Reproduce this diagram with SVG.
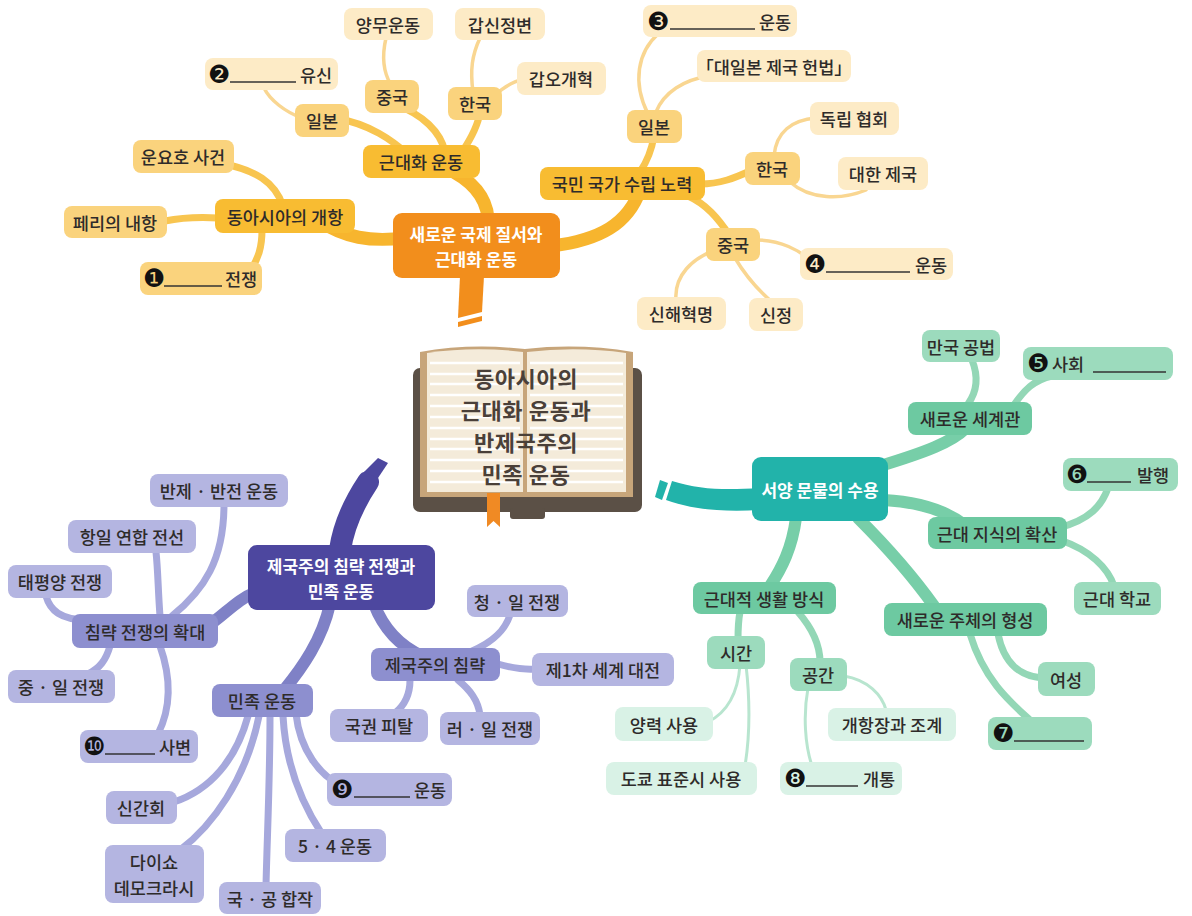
<svg xmlns="http://www.w3.org/2000/svg" width="1192" height="916" viewBox="0 0 1192 916">
<defs>
<style>
text{font-family:"Noto Sans CJK KR","Noto Sans CJK SC","DejaVu Sans",sans-serif;font-size:17.5px;fill:#2e2b2a;text-anchor:middle;dominant-baseline:central;font-weight:500}
.tw{fill:#ffffff;font-weight:700;font-size:17px}
.tb{font-size:22px;font-weight:700;fill:#4a4039;letter-spacing:0.6px}
.num{font-family:"DejaVu Sans",sans-serif;font-size:25px;fill:#111;text-anchor:start}
.bl{stroke:#333;stroke-width:1.3}
.o1{fill:#F28E1C}.o2{fill:#F8BC32}.o3{fill:#FAD37D}.o4{fill:#FDEBC6}
.g1{fill:#22B3AA}.g2{fill:#6DC9A1}.g3{fill:#9CDBBD}.g4{fill:#D9F2E6}
.p1{fill:#4D479F}.p2{fill:#8D8FCF}.p3{fill:#B4B5E1}
.c{fill:none;stroke-linecap:round}
.co1{stroke:#F7B52E;stroke-width:13}.co2{stroke:#F8C550;stroke-width:7}.co3{stroke:#F9D691;stroke-width:3.5}
.cg1{stroke:#77CEA8;stroke-width:12}.cg2{stroke:#93D7B6;stroke-width:7}.cg3{stroke:#B8E5CF;stroke-width:3}
.cp1{stroke:#7F81C6;stroke-width:12}.cp2{stroke:#A6A8DC;stroke-width:7}
</style>
</defs>
<rect width="1192" height="916" fill="#ffffff"/>

<g id="connectors">
<!-- orange -->
<path class="c co1" d="M405,238 C370,242 345,238 318,220"/>
<path class="c co1" d="M488,218 C486,196 472,180 446,168"/>
<path class="c co1" d="M552,246 C600,240 628,224 640,190"/>
<path class="c co2" d="M410,156 C392,140 370,124 335,118"/>
<path class="c co2" d="M445,152 C441,132 422,114 396,105"/>
<path class="c co2" d="M462,152 C470,140 478,126 480,112"/>
<path class="c co2" d="M283,206 C275,182 256,170 220,163"/>
<path class="c co2" d="M165,221 C185,217 200,217 218,218"/>
<path class="c co2" d="M262,230 C262,248 258,258 252,268"/>
<path class="c co2" d="M640,172 C648,160 652,148 654,136"/>
<path class="c co2" d="M700,184 C720,184 735,178 752,170"/>
<path class="c co2" d="M688,196 C706,204 718,218 730,236"/>
<path class="c co3" d="M391,85 C382,70 382,55 386,38"/>
<path class="c co3" d="M473,92 C470,70 472,55 480,38"/>
<path class="c co3" d="M494,96 C505,86 515,80 530,78"/>
<path class="c co3" d="M302,118 C285,112 270,100 264,88"/>
<path class="c co3" d="M648,114 C632,82 638,52 658,34"/>
<path class="c co3" d="M656,112 C664,92 684,80 708,76"/>
<path class="c co3" d="M774,156 C776,132 792,120 816,118"/>
<path class="c co3" d="M790,182 C810,200 842,200 866,190"/>
<path class="c co3" d="M756,240 C780,240 800,250 812,262"/>
<path class="c co3" d="M716,250 C692,258 674,276 676,300"/>
<path class="c co3" d="M735,258 C745,275 758,290 772,302"/>
<!-- green -->
<path class="c cg1" d="M880,466 C926,452 952,442 966,428"/>
<path class="c cg1" d="M884,500 C922,502 948,512 966,526"/>
<path class="c cg1" d="M858,518 C888,548 914,578 934,606"/>
<path class="c cg1" d="M796,518 C792,548 782,568 770,586"/>
<path class="c cg2" d="M968,404 C978,390 978,375 972,360"/>
<path class="c cg2" d="M1014,405 C1024,390 1034,380 1052,376"/>
<path class="c cg2" d="M1058,528 C1090,520 1102,505 1108,488"/>
<path class="c cg2" d="M1060,540 C1090,550 1108,568 1114,586"/>
<path class="c cg2" d="M740,612 C738,622 738,632 738,640"/>
<path class="c cg2" d="M798,612 C812,628 820,645 820,662"/>
<path class="c cg2" d="M998,634 C1004,664 1020,676 1042,678"/>
<path class="c cg2" d="M970,634 C984,680 1010,702 1030,720"/>
<path class="c cg3" d="M740,665 C738,692 728,712 708,722"/>
<path class="c cg3" d="M746,665 C750,700 750,735 745,766"/>
<path class="c cg3" d="M844,676 C868,680 882,695 886,710"/>
<path class="c cg3" d="M808,688 C803,715 805,745 812,766"/>
<!-- purple -->
<path class="c cp1" d="M256,592 C236,600 226,614 205,628"/>
<path class="c cp1" d="M330,604 C322,640 302,668 284,690"/>
<path class="c cp1" d="M374,604 C384,630 400,646 422,656"/>
<path class="c cp2" d="M172,616 C204,590 224,560 224,504"/>
<path class="c cp2" d="M160,616 C158,590 158,570 156,552"/>
<path class="c cp2" d="M88,620 C60,620 50,610 46,596"/>
<path class="c cp2" d="M110,646 C106,660 100,668 88,674"/>
<path class="c cp2" d="M160,646 C172,680 170,710 158,734"/>
<path class="c cp2" d="M470,652 C494,642 505,630 510,615"/>
<path class="c cp2" d="M498,664 C512,668 524,670 536,669"/>
<path class="c cp2" d="M410,680 C410,695 405,705 395,713"/>
<path class="c cp2" d="M458,680 C470,690 478,700 480,715"/>
<path class="c cp2" d="M296,714 C300,750 320,776 342,786"/>
<path class="c cp2" d="M283,716 C286,770 306,810 322,834"/>
<path class="c cp2" d="M270,716 C270,780 267,840 266,886"/>
<path class="c cp2" d="M259,716 C246,780 212,826 180,850"/>
<path class="c cp2" d="M248,716 C236,760 210,790 174,802"/>
</g>

<g id="tails">
<path d="M460,276 L484,276 L482,312 L458,318 Z" class="o1"/>
<path d="M458,322 L482,316 L482,321 L458,327 Z" class="o1"/>
<path d="M672,481 C700,490 726,490 760,488 L760,510 C724,512 694,510 666,500 Z" fill="#22B3AA"/>
<path d="M660,480 L668,483 L662,500 L655,497 Z" fill="#22B3AA"/>
<path class="c" d="M340,550 C344,522 356,500 368,482" stroke="#4D479F" stroke-width="22" stroke-linecap="butt"/>
<path d="M364,472 L378,478 L388,463 L378,458 Z" fill="#4D479F"/>
</g>

<g id="book">
<rect x="413" y="368" width="229" height="144" rx="7" fill="#5B5046"/>
<rect x="510" y="508" width="35" height="11" rx="3" fill="#5B5046"/>
<path d="M420,352 Q470,343 525,349 Q580,343 633,352 L633,497 L420,497 Z" fill="#C7A57A"/>
<path d="M427,353 Q475,346 523,352 L523,492 L427,492 Z" fill="#F4EBDA"/>
<path d="M527,352 Q577,346 626,353 L626,492 L527,492 Z" fill="#F4EBDA"/>
<g stroke="#ffffff" stroke-width="2.5">
<path d="M430,363H520M430,374H520M430,384H520M430,395H520M430,406H520M430,417H520M430,428H520M430,439H520M430,449H520M430,460H520M430,471H520M430,482H520"/>
<path d="M530,363H623M530,374H623M530,384H623M530,395H623M530,406H623M530,417H623M530,428H623M530,439H623M530,449H623M530,460H623M530,471H623M530,482H623"/>
</g>
<line x1="525" y1="350" x2="525" y2="494" stroke="#C7A57A" stroke-width="3"/>
<path d="M487,493 L500,493 L500,527 L493.5,521 L487,527 Z" fill="#F08A24"/>
<text class="tb" x="526" y="377">동아시아의</text>
<text class="tb" x="526" y="409">근대화 운동과</text>
<text class="tb" x="526" y="441">반제국주의</text>
<text class="tb" x="526" y="473">민족 운동</text>
</g>

<!-- orange nodes -->
<g id="o-main"><rect class="o1" x="393" y="213" width="167" height="65" rx="9"/><text class="tw" x="476" y="233">새로운 국제 질서와</text><text class="tw" x="476" y="258">근대화 운동</text></g>
<g id="o-gaehang"><rect class="o2" x="215" y="199" width="140" height="34" rx="8"/><text x="285" y="216">동아시아의 개항</text></g>
<g id="o-modern"><rect class="o2" x="363" y="145" width="117" height="33" rx="8"/><text x="421" y="161.5">근대화 운동</text></g>
<g id="o-nation"><rect class="o2" x="540" y="167" width="165" height="33" rx="8"/><text x="622" y="183.5">국민 국가 수립 노력</text></g>
<g id="o-japan1"><rect class="o3" x="295" y="104" width="54" height="33" rx="8"/><text x="322" y="120.5">일본</text></g>
<g id="o-china1"><rect class="o3" x="365" y="80" width="54" height="33" rx="8"/><text x="392" y="96.5">중국</text></g>
<g id="o-korea1"><rect class="o3" x="448" y="87" width="54" height="33" rx="8"/><text x="475" y="103.5">한국</text></g>
<g id="o-unyo"><rect class="o3" x="133" y="140" width="101" height="33" rx="8"/><text x="183" y="156.5">운요호 사건</text></g>
<g id="o-perry"><rect class="o3" x="64" y="206" width="103" height="32" rx="8"/><text x="115" y="222">페리의 내항</text></g>
<g id="o-q1"><rect class="o3" x="140" y="262" width="122" height="33" rx="8"/><text class="num" x="143" y="278.5">❶</text><line class="bl" x1="164" y1="286" x2="222" y2="286"/><text x="241" y="278.5">전쟁</text></g>
<g id="o-japan2"><rect class="o3" x="627" y="110" width="55" height="33" rx="8"/><text x="654" y="126.5">일본</text></g>
<g id="o-korea2"><rect class="o3" x="745" y="152" width="55" height="33" rx="8"/><text x="772" y="168.5">한국</text></g>
<g id="o-china2"><rect class="o3" x="706" y="228" width="54" height="33" rx="8"/><text x="733" y="244.5">중국</text></g>
<g id="o-yangmu"><rect class="o4" x="344" y="8" width="89" height="32" rx="8"/><text x="388" y="24">양무운동</text></g>
<g id="o-gapsin"><rect class="o4" x="455" y="8" width="90" height="32" rx="8"/><text x="500" y="24">갑신정변</text></g>
<g id="o-gabo"><rect class="o4" x="517" y="62" width="89" height="33" rx="8"/><text x="561" y="78.5">갑오개혁</text></g>
<g id="o-q2"><rect class="o4" x="205" y="58" width="133" height="32" rx="8"/><text class="num" x="208" y="74">❷</text><line class="bl" x1="230" y1="82" x2="296" y2="82"/><text x="316" y="74">유신</text></g>
<g id="o-q3"><rect class="o4" x="643" y="5" width="154" height="32" rx="8"/><text class="num" x="647" y="21">❸</text><line class="bl" x1="670" y1="29" x2="755" y2="29"/><text x="775" y="21">운동</text></g>
<g id="o-const"><rect class="o4" x="697" y="50" width="154" height="32" rx="8"/><text x="774" y="66">「대일본 제국 헌법」</text></g>
<g id="o-dongnip"><rect class="o4" x="810" y="102" width="89" height="33" rx="8"/><text x="854" y="118.5">독립 협회</text></g>
<g id="o-daehan"><rect class="o4" x="838" y="157" width="90" height="33" rx="8"/><text x="883" y="173.5">대한 제국</text></g>
<g id="o-q4"><rect class="o4" x="800" y="248" width="153" height="32" rx="8"/><text class="num" x="804" y="264">❹</text><line class="bl" x1="826" y1="272" x2="910" y2="272"/><text x="931" y="264">운동</text></g>
<g id="o-xinhai"><rect class="o4" x="637" y="297" width="89" height="33" rx="8"/><text x="681" y="313.5">신해혁명</text></g>
<g id="o-xinzheng"><rect class="o4" x="749" y="298" width="54" height="33" rx="8"/><text x="776" y="314.5">신정</text></g>

<!-- green nodes -->
<g id="g-main"><rect class="g1" x="752" y="457" width="136" height="64" rx="9"/><text class="tw" x="820" y="489">서양 문물의 수용</text></g>
<g id="g-world"><rect class="g2" x="908" y="402" width="124" height="33" rx="8"/><text x="970" y="418.5">새로운 세계관</text></g>
<g id="g-know"><rect class="g2" x="928" y="517" width="139" height="32" rx="8"/><text x="997" y="533">근대 지식의 확산</text></g>
<g id="g-life"><rect class="g2" x="693" y="582" width="143" height="32" rx="8"/><text x="764" y="598">근대적 생활 방식</text></g>
<g id="g-subj"><rect class="g2" x="884" y="603" width="163" height="33" rx="8"/><text x="965" y="619.5">새로운 주체의 형성</text></g>
<g id="g-law"><rect class="g3" x="922" y="330" width="78" height="32" rx="8"/><text x="961" y="346">만국 공법</text></g>
<g id="g-q5"><rect class="g3" x="1023" y="347" width="150" height="33" rx="8"/><text class="num" x="1027" y="363.5">❺</text><text x="1068" y="363.5">사회</text><line class="bl" x1="1093" y1="372" x2="1166" y2="372"/></g>
<g id="g-q6"><rect class="g3" x="1063" y="458" width="115" height="33" rx="8"/><text class="num" x="1066" y="474.5">❻</text><line class="bl" x1="1087" y1="482" x2="1131" y2="482"/><text x="1153" y="474.5">발행</text></g>
<g id="g-school"><rect class="g3" x="1074" y="582" width="87" height="33" rx="8"/><text x="1117" y="598.5">근대 학교</text></g>
<g id="g-time"><rect class="g3" x="707" y="636" width="58" height="33" rx="8"/><text x="736" y="652.5">시간</text></g>
<g id="g-space"><rect class="g3" x="790" y="658" width="57" height="33" rx="8"/><text x="818" y="674.5">공간</text></g>
<g id="g-women"><rect class="g3" x="1038" y="662" width="57" height="34" rx="8"/><text x="1066" y="679">여성</text></g>
<g id="g-q7"><rect class="g3" x="988" y="717" width="104" height="33" rx="8"/><text class="num" x="992" y="733.5">❼</text><line class="bl" x1="1014" y1="741" x2="1084" y2="741"/></g>
<g id="g-solar"><rect class="g4" x="615" y="707" width="98" height="34" rx="8"/><text x="664" y="724">양력 사용</text></g>
<g id="g-tokyo"><rect class="g4" x="606" y="762" width="151" height="33" rx="8"/><text x="681" y="778.5">도쿄 표준시 사용</text></g>
<g id="g-port"><rect class="g4" x="828" y="708" width="128" height="33" rx="8"/><text x="892" y="724.5">개항장과 조계</text></g>
<g id="g-q8"><rect class="g4" x="780" y="762" width="122" height="33" rx="8"/><text class="num" x="784" y="778.5">❽</text><line class="bl" x1="806" y1="786" x2="858" y2="786"/><text x="879" y="778.5">개통</text></g>

<!-- purple nodes -->
<g id="p-main"><rect class="p1" x="248" y="545" width="187" height="65" rx="9"/><text class="tw" x="341" y="565">제국주의 침략 전쟁과</text><text class="tw" x="341" y="590">민족 운동</text></g>
<g id="p-expand"><rect class="p2" x="72" y="614" width="146" height="34" rx="8"/><text x="145" y="631">침략 전쟁의 확대</text></g>
<g id="p-imp"><rect class="p2" x="371" y="648" width="129" height="33" rx="8"/><text x="435" y="664.5">제국주의 침략</text></g>
<g id="p-nat"><rect class="p2" x="212" y="684" width="101" height="33" rx="8"/><text x="262" y="700.5">민족 운동</text></g>
<g id="p-anti"><rect class="p3" x="150" y="474" width="138" height="33" rx="8"/><text x="219" y="490.5">반제 · 반전 운동</text></g>
<g id="p-united"><rect class="p3" x="68" y="520" width="128" height="33" rx="8"/><text x="132" y="536.5">항일 연합 전선</text></g>
<g id="p-pacific"><rect class="p3" x="8" y="565" width="104" height="33" rx="8"/><text x="60" y="581.5">태평양 전쟁</text></g>
<g id="p-sinojp"><rect class="p3" x="8" y="670" width="107" height="33" rx="8"/><text x="61" y="686.5">중 · 일 전쟁</text></g>
<g id="p-q10"><rect class="p3" x="80" y="730" width="118" height="33" rx="8"/><text class="num" x="83" y="746.5">❿</text><line class="bl" x1="105" y1="754" x2="155" y2="754"/><text x="175" y="746.5">사변</text></g>
<g id="p-qing"><rect class="p3" x="467" y="585" width="101" height="32" rx="8"/><text x="517" y="601">청 · 일 전쟁</text></g>
<g id="p-ww1"><rect class="p3" x="532" y="653" width="142" height="33" rx="8"/><text x="603" y="669.5">제1차 세계 대전</text></g>
<g id="p-annex"><rect class="p3" x="330" y="709" width="98" height="33" rx="8"/><text x="379" y="725.5">국권 피탈</text></g>
<g id="p-russo"><rect class="p3" x="440" y="712" width="100" height="33" rx="8"/><text x="490" y="728.5">러 · 일 전쟁</text></g>
<g id="p-q9"><rect class="p3" x="327" y="773" width="125" height="33" rx="8"/><text class="num" x="331" y="789.5">❾</text><line class="bl" x1="354" y1="797" x2="410" y2="797"/><text x="430" y="789.5">운동</text></g>
<g id="p-singan"><rect class="p3" x="106" y="791" width="71" height="33" rx="8"/><text x="141" y="807.5">신간회</text></g>
<g id="p-taisho"><rect class="p3" x="105" y="845" width="99" height="58" rx="8"/><text x="154" y="861">다이쇼</text><text x="154" y="887">데모크라시</text></g>
<g id="p-54"><rect class="p3" x="285" y="829" width="101" height="33" rx="8"/><text x="335" y="845.5">5 · 4 운동</text></g>
<g id="p-kmt"><rect class="p3" x="219" y="882" width="102" height="32" rx="8"/><text x="270" y="898">국 · 공 합작</text></g>
</svg>
